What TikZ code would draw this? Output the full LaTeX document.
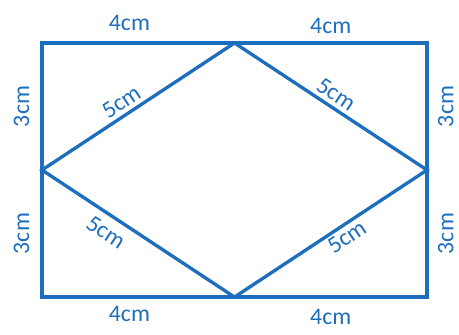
\documentclass[tikz,border=0pt]{standalone}
\usepackage{fontspec}
\setmainfont{Carlito}
\usepackage{xcolor}
\definecolor{penblue}{RGB}{30,110,190}

\begin{document}
\begin{tikzpicture}[
  x=0.9625cm, y=0.847cm,
  every node/.style={font=\fontsize{13.5}{15}\selectfont, text=penblue},
  edge/.style={draw=penblue, line width=1.9pt, line join=miter},
  size/.style={midway, sloped, inner sep=1pt}
]
\useasboundingbox (-0.873,-0.874) rectangle (8.665,7.015);

% corners of the rectangle
\coordinate (bl) at (0,0);
\coordinate (br) at (8,0);
\coordinate (tr) at (8,6);
\coordinate (tl) at (0,6);
% corners of the rhombus
\coordinate (top) at (4,6);
\coordinate (right) at (8,3);
\coordinate (bottom) at (4,0);
\coordinate (left) at (0,3);

\draw[edge] (bl) -- (br) -- (tr) -- (tl) -- cycle;
\draw[edge] (left) -- (top) -- (right) -- (bottom) -- cycle;

% side lengths
\path (tl) -- (top) node[size, above=6pt, xshift=-5pt] (t1) {4cm};
\path (top) -- (tr) node[size, above=4pt] (t2) {4cm};
\path (bl) -- (bottom) node[size, below=4pt, xshift=-5pt] (b1) {4cm};
\path (bottom) -- (br) node[size, below=6pt] (b2) {4cm};
\path (left) -- (tl) node[size, above=6pt] (l1) {3cm};
\path (bl) -- (left) node[size, above=6pt] (l2) {3cm};
\path (right) -- (tr) node[size, below=5pt] (r1) {3cm};
\path (br) -- (right) node[size, below=5pt] (r2) {3cm};

\path (left) -- (top) node[size, above=2pt, pos=0.45] (d1) {5cm};
\path (top) -- (right) node[size, above=2pt, pos=0.49] (d2) {5cm};
\path (left) -- (bottom) node[size, below=4pt, pos=0.38] (d3) {5cm};
\path (bottom) -- (right) node[size, below=1pt, pos=0.55] (d4) {5cm};
\end{tikzpicture}
\end{document}
